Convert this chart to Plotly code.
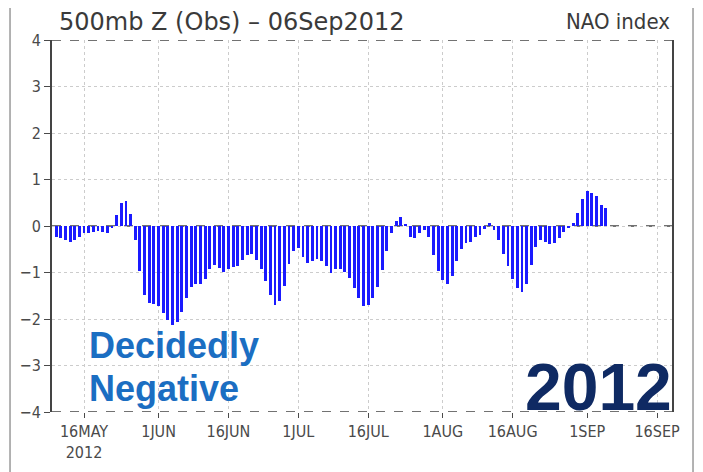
import plotly.graph_objects as go
import pandas as pd

# ---- data ----
start_date = "2012-05-10"
nao_values = [
    -0.23, -0.26, -0.30, -0.35, -0.31, -0.23, -0.16, -0.14, -0.12, -0.10,
    -0.12, -0.14, -0.05, 0.24, 0.49, 0.54, 0.26, -0.30, -0.96, -1.48,
    -1.66, -1.67, -1.72, -1.87, -2.03, -2.12, -2.07, -1.86, -1.55, -1.31,
    -1.24, -1.25, -1.13, -0.92, -0.83, -0.90, -0.99, -0.92, -0.89, -0.86,
    -0.73, -0.62, -0.61, -0.73, -0.93, -1.19, -1.48, -1.69, -1.62, -1.29,
    -0.82, -0.53, -0.48, -0.66, -0.79, -0.76, -0.71, -0.75, -0.87, -1.01,
    -0.93, -0.93, -0.98, -1.12, -1.34, -1.55, -1.71, -1.69, -1.55, -1.31,
    -0.94, -0.54, -0.14, 0.11, 0.20, 0.04, -0.23, -0.26, -0.14, -0.09,
    -0.24, -0.62, -0.96, -1.17, -1.24, -1.07, -0.76, -0.50, -0.37, -0.34,
    -0.24, -0.19, -0.07, 0.06, -0.09, -0.31, -0.60, -0.86, -1.14, -1.34,
    -1.41, -1.24, -0.84, -0.46, -0.30, -0.34, -0.39, -0.37, -0.26, -0.12,
    -0.05, 0.07, 0.29, 0.58, 0.76, 0.72, 0.64, 0.46, 0.38,
]
tick_dates = ["2012-05-16", "2012-06-01", "2012-06-16", "2012-07-01", "2012-07-16",
              "2012-08-01", "2012-08-16", "2012-09-01", "2012-09-16"]
tick_labels = ["16MAY<br>2012", "1JUN", "16JUN", "1JUL", "16JUL",
               "1AUG", "16AUG", "1SEP", "16SEP"]
y_ticks = [-4, -3, -2, -1, 0, 1, 2, 3, 4]
x_range = ["2012-05-09 03:00", "2012-09-19 05:00"]
y_range = [-4, 4]

dates = pd.date_range(start_date, periods=len(nao_values), freq="D")

AX_FONT = "Liberation Sans Narrow, DejaVu Sans Condensed, Arial Narrow, sans-serif"
AX_COLOR = "#4a4a4a"

fig = go.Figure()
fig.add_trace(go.Bar(
    x=dates, y=nao_values,
    width=0.62 * 86400000,
    marker=dict(color="#1a1aff", line=dict(width=0)),
    showlegend=False,
))

# the page body adds an 8px offset, so margins are shifted by 8px
fig.update_layout(
    width=703, height=472,
    margin=dict(l=44, r=39, t=32, b=68, autoexpand=False),
    paper_bgcolor="white", plot_bgcolor="white",
    bargap=0,
    xaxis=dict(
        type="date", range=x_range, automargin=False,
        tickvals=tick_dates, ticktext=tick_labels,
        showgrid=True, gridcolor="#cccccc", griddash="dot", gridwidth=1,
        ticks="outside", ticklen=5, tickcolor=AX_COLOR, tickwidth=1,
        tickfont=dict(family=AX_FONT, size=16, color=AX_COLOR),
        showline=False, zeroline=False,
    ),
    yaxis=dict(
        range=y_range, tickvals=y_ticks, automargin=False,
        showgrid=True, gridcolor="#cccccc", griddash="dot", gridwidth=1,
        ticks="outside", ticklen=6, tickcolor=AX_COLOR, tickwidth=1,
        tickfont=dict(family=AX_FONT, size=16, color=AX_COLOR),
        showline=True, linecolor="#444444", linewidth=2, mirror=True,
        zeroline=False,
    ),
)

# zero line and dashed top/bottom frame
fig.add_shape(type="line", xref="paper", yref="y", x0=0, x1=1, y0=0, y1=0,
              line=dict(color="#444444", width=1.5, dash="dash"), layer="below")
for yv in (y_range[0], y_range[1]):
    fig.add_shape(type="line", xref="paper", yref="y", x0=0, x1=1, y0=yv, y1=yv,
                  line=dict(color="#444444", width=1.5, dash="dash"), layer="above")

# outer picture frame (bottom edge outside the canvas)
fig.add_shape(type="rect", xref="paper", yref="paper",
              x0=-0.0677, x1=1.0339, y0=-0.25, y1=1.0995,
              line=dict(color="#9a9a9a", width=1.5), fillcolor="rgba(0,0,0,0)")

fig.add_annotation(text="500mb Z (Obs) – 06Sep2012", xref="paper", yref="paper",
                   x=0.008, y=1.049, xanchor="left", yanchor="middle",
                   showarrow=False,
                   font=dict(family="DejaVu Sans, sans-serif", size=24, color="#3a3a3a"))
fig.add_annotation(text="NAO index", xref="paper", yref="paper",
                   x=1.0, y=1.049, xanchor="right", yanchor="middle",
                   showarrow=False,
                   font=dict(family=AX_FONT, size=22, color="#3a3a3a"))

BLUE_FONT = dict(family="Liberation Sans, Arial, sans-serif", size=36, color="#1b6ec2")
fig.add_annotation(text="<b>Decidedly</b>", xref="paper", yref="paper",
                   x=0.056, y=0.180, xanchor="left", yanchor="middle",
                   showarrow=False, font=BLUE_FONT)
fig.add_annotation(text="<b>Negative</b>", xref="paper", yref="paper",
                   x=0.056, y=0.064, xanchor="left", yanchor="middle",
                   showarrow=False, font=BLUE_FONT)
fig.add_annotation(text="<b>2012</b>", xref="paper", yref="paper",
                   x=1.003, y=0.067, xanchor="right", yanchor="middle",
                   showarrow=False,
                   font=dict(family="Liberation Sans, Arial, sans-serif", size=66, color="#0f2a63"))

fig.write_html("out.html")
